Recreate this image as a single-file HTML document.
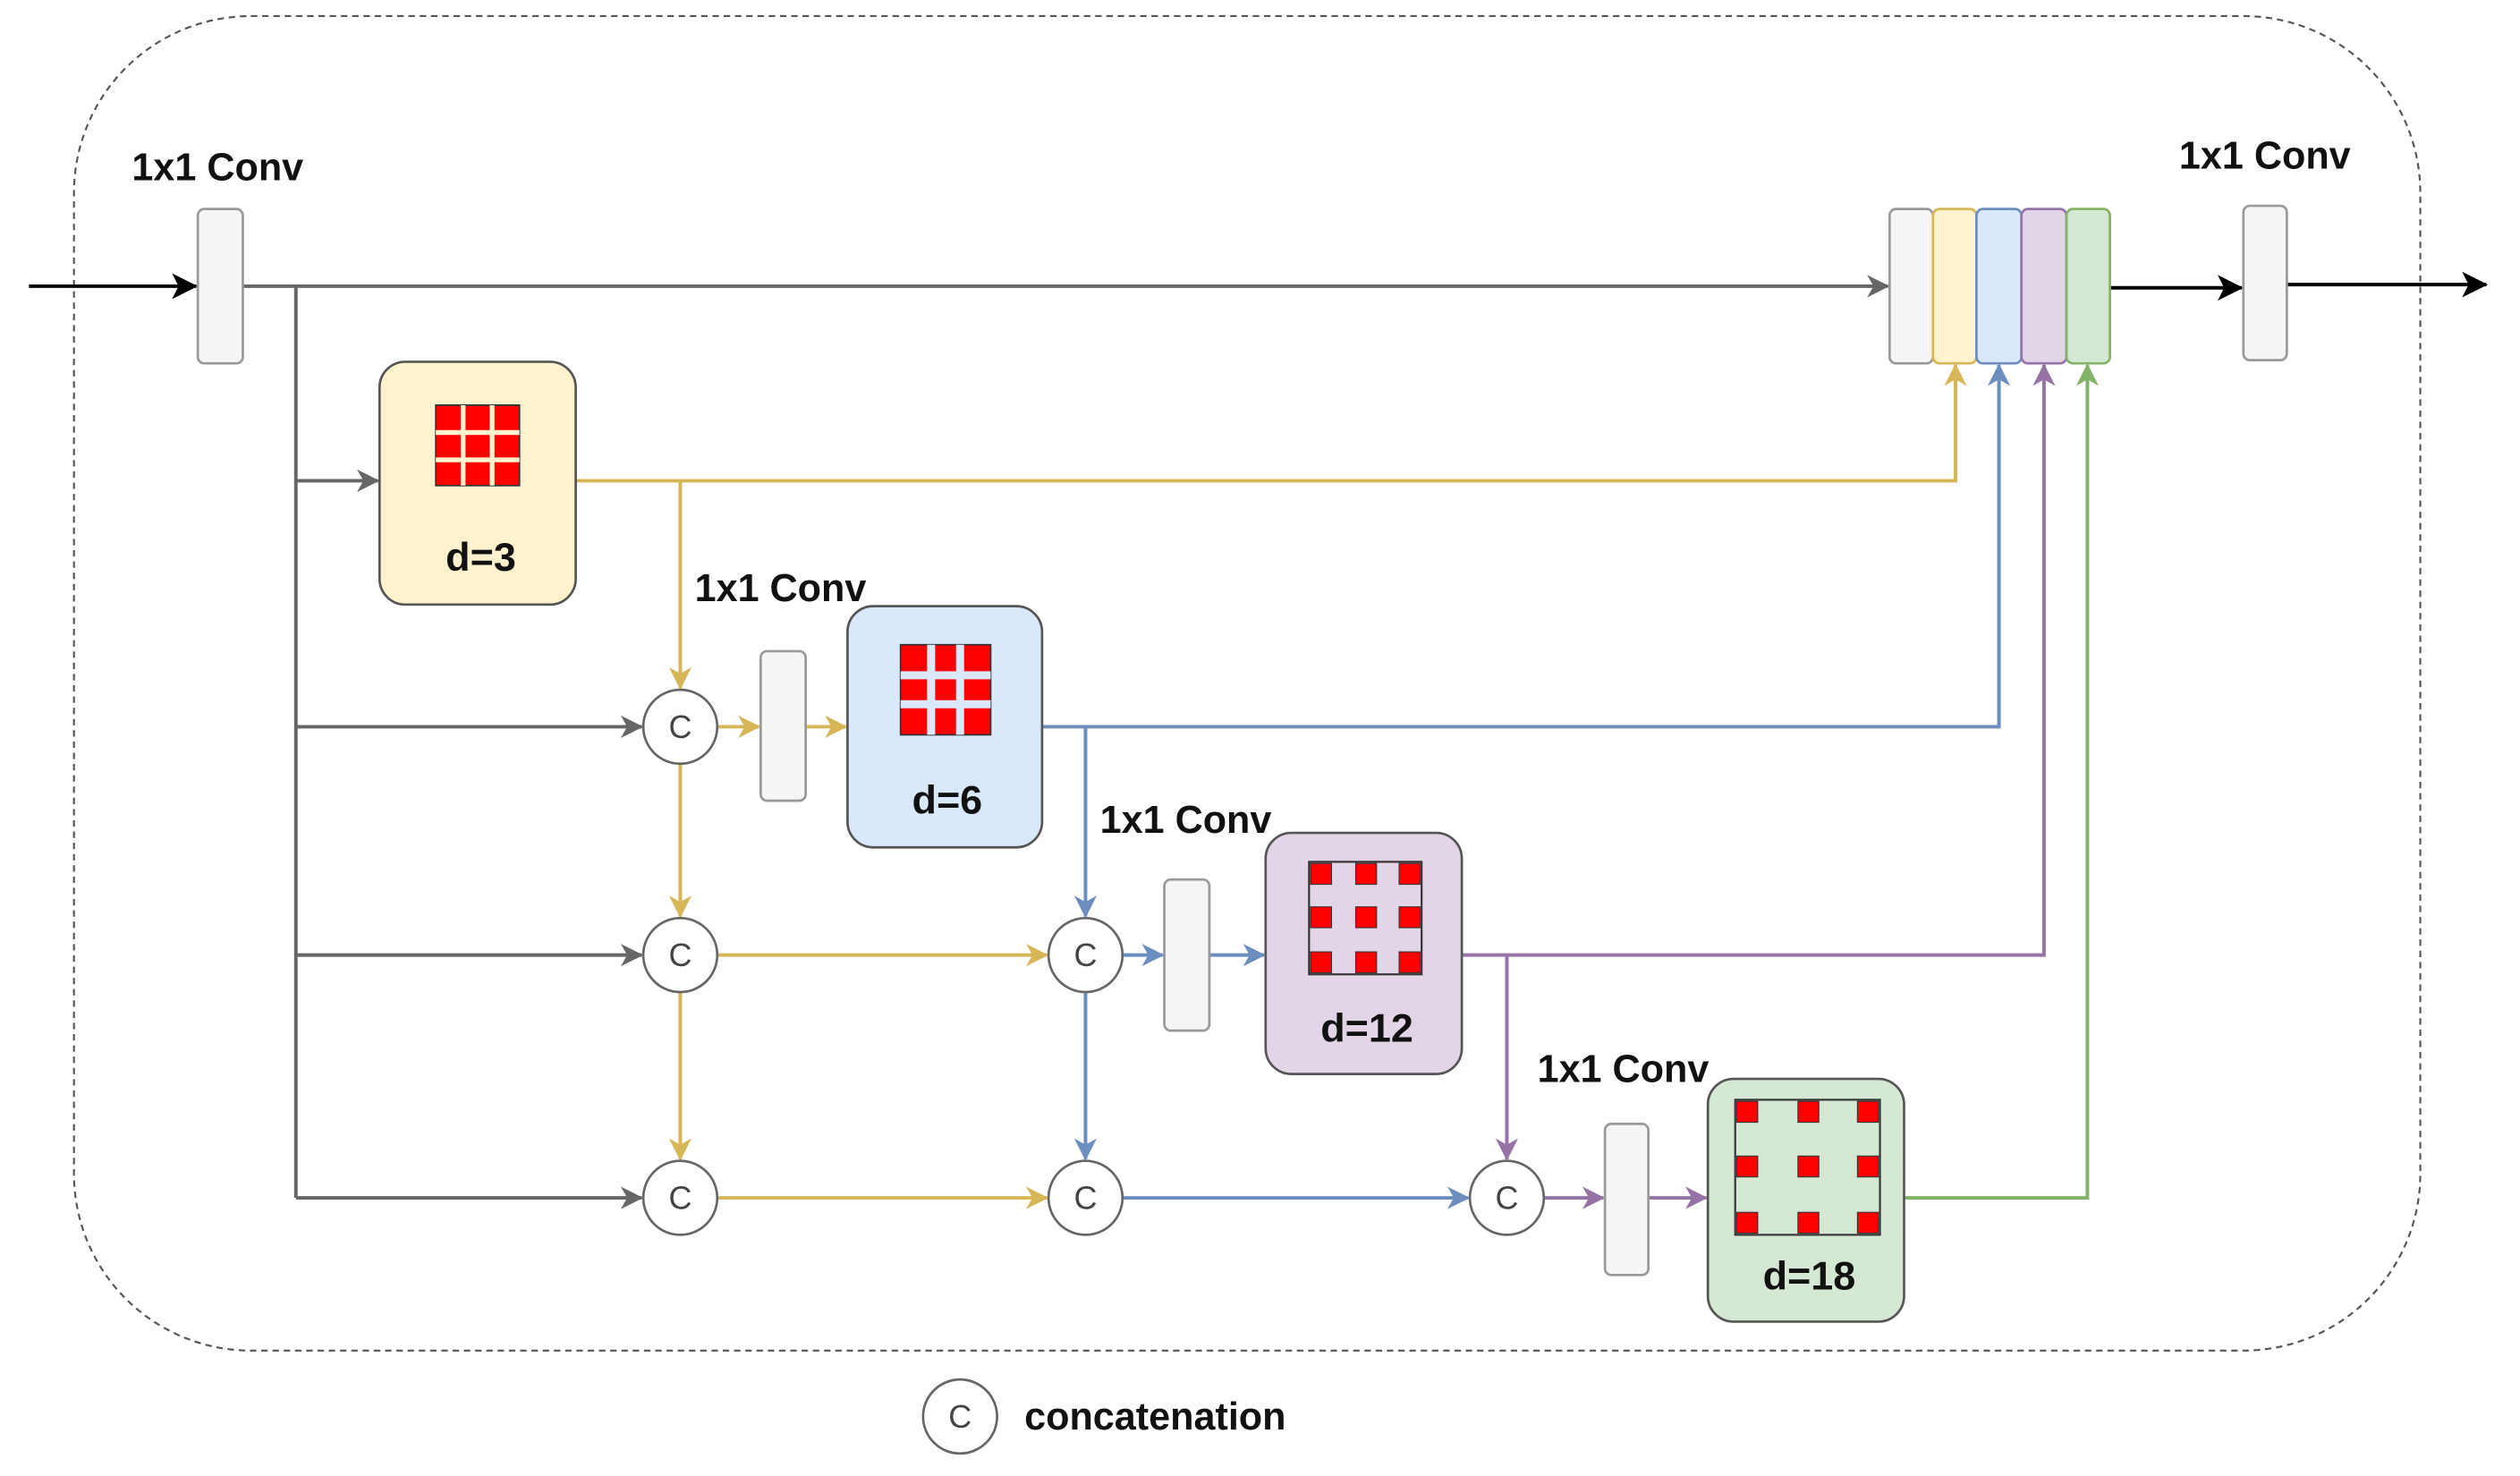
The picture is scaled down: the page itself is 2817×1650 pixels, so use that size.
<!DOCTYPE html>
<html><head><meta charset="utf-8"><style>
html,body{margin:0;padding:0;background:#fff;}
svg{display:block;}
text{font-family:"Liberation Sans",Arial,sans-serif;}
</style></head><body>
<svg width="2817" height="1650" viewBox="0 0 1567 918" preserveAspectRatio="none" xmlns="http://www.w3.org/2000/svg">
<defs>
<marker id="aG" markerWidth="14" markerHeight="14" refX="13" refY="7" orient="auto" markerUnits="userSpaceOnUse" viewBox="0 0 14 14"><path d="M0,0 L14,7 L0,14 L4,7 Z" fill="#666"/></marker>
<marker id="aY" markerWidth="14" markerHeight="14" refX="13" refY="7" orient="auto" markerUnits="userSpaceOnUse" viewBox="0 0 14 14"><path d="M0,0 L14,7 L0,14 L4,7 Z" fill="#d6b656"/></marker>
<marker id="aB" markerWidth="14" markerHeight="14" refX="13" refY="7" orient="auto" markerUnits="userSpaceOnUse" viewBox="0 0 14 14"><path d="M0,0 L14,7 L0,14 L4,7 Z" fill="#6c8ebf"/></marker>
<marker id="aP" markerWidth="14" markerHeight="14" refX="13" refY="7" orient="auto" markerUnits="userSpaceOnUse" viewBox="0 0 14 14"><path d="M0,0 L14,7 L0,14 L4,7 Z" fill="#9673a6"/></marker>
<marker id="aN" markerWidth="14" markerHeight="14" refX="13" refY="7" orient="auto" markerUnits="userSpaceOnUse" viewBox="0 0 14 14"><path d="M0,0 L14,7 L0,14 L4,7 Z" fill="#82b366"/></marker>
<marker id="aKb" markerWidth="16" markerHeight="16" refX="15" refY="8" orient="auto" markerUnits="userSpaceOnUse" viewBox="0 0 16 16"><path d="M0,0 L16,8 L0,16 L4,8 Z" fill="#000"/></marker>
</defs>

<rect x="46" y="10" width="1459" height="830" rx="110" ry="110" fill="none" stroke="#555" stroke-width="1.2" stroke-dasharray="4,3"/>

<g stroke="#666" stroke-width="2.2" fill="none">
<line x1="151" y1="178" x2="1174" y2="178" marker-end="url(#aG)"/>
<line x1="184" y1="178" x2="184" y2="745"/>
<line x1="184" y1="299" x2="235" y2="299" marker-end="url(#aG)"/>
<line x1="184" y1="452" x2="399" y2="452" marker-end="url(#aG)"/>
<line x1="184" y1="594" x2="399" y2="594" marker-end="url(#aG)"/>
<line x1="184" y1="745" x2="399" y2="745" marker-end="url(#aG)"/>
</g>
<g stroke="#000" stroke-width="2.2" fill="none">
<line x1="18" y1="178" x2="122" y2="178" marker-end="url(#aKb)"/>
<line x1="1312" y1="179" x2="1394" y2="179" marker-end="url(#aKb)"/>
<line x1="1422" y1="177" x2="1546" y2="177" marker-end="url(#aKb)"/>
</g>

<g stroke="#d6b656" stroke-width="2.2" fill="none">
<polyline points="358,299 1216,299 1216,227" marker-end="url(#aY)"/>
<line x1="423" y1="299" x2="423" y2="428" marker-end="url(#aY)"/>
<line x1="423" y1="475" x2="423" y2="570" marker-end="url(#aY)"/>
<line x1="423" y1="617" x2="423" y2="721" marker-end="url(#aY)"/>
<line x1="446" y1="452" x2="472" y2="452" marker-end="url(#aY)"/>
<line x1="501" y1="452" x2="526" y2="452" marker-end="url(#aY)"/>
<line x1="446" y1="594" x2="651" y2="594" marker-end="url(#aY)"/>
<line x1="446" y1="745" x2="651" y2="745" marker-end="url(#aY)"/>
</g>
<g stroke="#6c8ebf" stroke-width="2.2" fill="none">
<polyline points="648,452 1243,452 1243,227" marker-end="url(#aB)"/>
<line x1="675" y1="452" x2="675" y2="570" marker-end="url(#aB)"/>
<line x1="675" y1="617" x2="675" y2="721" marker-end="url(#aB)"/>
<line x1="698" y1="594" x2="723" y2="594" marker-end="url(#aB)"/>
<line x1="752" y1="594" x2="786" y2="594" marker-end="url(#aB)"/>
<line x1="698" y1="745" x2="913" y2="745" marker-end="url(#aB)"/>
</g>
<g stroke="#9673a6" stroke-width="2.2" fill="none">
<polyline points="909,594 1271,594 1271,227" marker-end="url(#aP)"/>
<line x1="937" y1="594" x2="937" y2="721" marker-end="url(#aP)"/>
<line x1="960" y1="745" x2="997" y2="745" marker-end="url(#aP)"/>
<line x1="1025" y1="745" x2="1061" y2="745" marker-end="url(#aP)"/>
</g>
<polyline points="1184,745 1298,745 1298,227" stroke="#82b366" stroke-width="2.2" fill="none" marker-end="url(#aN)"/>

<g fill="#f5f5f5" stroke="#999" stroke-width="1.5">
<rect x="123" y="130" width="28" height="96" rx="4"/>
<rect x="1395" y="128" width="27" height="96" rx="4"/>
<rect x="473" y="405" width="28" height="93" rx="4"/>
<rect x="724" y="547" width="28" height="94" rx="4"/>
<rect x="998" y="699" width="27" height="94" rx="4"/>
<rect x="1175" y="130" width="27" height="96" rx="4"/>
</g>
<rect x="1202" y="130" width="27" height="96" rx="4" fill="#fff2cc" stroke="#d6b656" stroke-width="1.5"/>
<rect x="1229" y="130" width="28" height="96" rx="4" fill="#dae8fc" stroke="#6c8ebf" stroke-width="1.5"/>
<rect x="1257" y="130" width="28" height="96" rx="4" fill="#e1d5e7" stroke="#9673a6" stroke-width="1.5"/>
<rect x="1285" y="130" width="27" height="96" rx="4" fill="#d5e8d4" stroke="#82b366" stroke-width="1.5"/>

<rect x="236" y="225" width="122" height="151" rx="16" fill="#fff2cc" stroke="#555" stroke-width="1.5"/>
<rect x="527" y="377" width="121" height="150" rx="16" fill="#dae8fc" stroke="#555" stroke-width="1.5"/>
<rect x="787" y="518" width="122" height="150" rx="16" fill="#e1d5e7" stroke="#555" stroke-width="1.5"/>
<rect x="1062" y="671" width="122" height="151" rx="16" fill="#d5e8d4" stroke="#555" stroke-width="1.5"/>

<rect x="271" y="252" width="52" height="50" fill="#ff0000" stroke="#333" stroke-width="1"/>
<g stroke="#fff2cc" stroke-width="3"><line x1="288" y1="252" x2="288" y2="302"/><line x1="306" y1="252" x2="306" y2="302"/><line x1="271" y1="269" x2="323" y2="269"/><line x1="271" y1="286" x2="323" y2="286"/></g>
<rect x="560" y="401" width="56" height="56" fill="#ff0000" stroke="#333" stroke-width="1"/>
<g stroke="#dae8fc" stroke-width="5"><line x1="579" y1="401" x2="579" y2="457"/><line x1="597" y1="401" x2="597" y2="457"/><line x1="560" y1="420" x2="616" y2="420"/><line x1="560" y1="438" x2="616" y2="438"/></g>
<rect x="814" y="536" width="70" height="70" fill="none" stroke="#333" stroke-width="1.2"/>
<g fill="#ff0000" stroke="#333" stroke-width="0.6">
<rect x="815" y="537" width="13" height="13"/><rect x="843" y="537" width="13" height="13"/><rect x="870" y="537" width="13" height="13"/>
<rect x="815" y="564" width="13" height="13"/><rect x="843" y="564" width="13" height="13"/><rect x="870" y="564" width="13" height="13"/>
<rect x="815" y="592" width="13" height="13"/><rect x="843" y="592" width="13" height="13"/><rect x="870" y="592" width="13" height="13"/>
</g>
<rect x="1079" y="684" width="90" height="84" fill="none" stroke="#333" stroke-width="1.2"/>
<g fill="#ff0000" stroke="#333" stroke-width="0.6">
<rect x="1080" y="685" width="13" height="13"/><rect x="1118" y="685" width="13" height="13"/><rect x="1155" y="685" width="13" height="13"/>
<rect x="1080" y="719" width="13" height="13"/><rect x="1118" y="719" width="13" height="13"/><rect x="1155" y="719" width="13" height="13"/>
<rect x="1080" y="754" width="13" height="13"/><rect x="1118" y="754" width="13" height="13"/><rect x="1155" y="754" width="13" height="13"/>
</g>

<g fill="#fff" stroke="#666" stroke-width="1.5">
<circle cx="423" cy="452" r="23"/><circle cx="423" cy="594" r="23"/><circle cx="423" cy="745" r="23"/>
<circle cx="675" cy="594" r="23"/><circle cx="675" cy="745" r="23"/><circle cx="937" cy="745" r="23"/>
<circle cx="597" cy="881" r="23"/>
</g>
<g font-size="20" fill="#444" text-anchor="middle">
<text x="423" y="459">C</text><text x="423" y="601">C</text><text x="423" y="752">C</text>
<text x="675" y="601">C</text><text x="675" y="752">C</text><text x="937" y="752">C</text>
<text x="597" y="888">C</text>
</g>

<g font-size="24" font-weight="bold" fill="#111">
<text x="82" y="112">1x1 Conv</text>
<text x="1355" y="105">1x1 Conv</text>
<text x="432" y="374">1x1 Conv</text>
<text x="684" y="518">1x1 Conv</text>
<text x="956" y="673">1x1 Conv</text>
<text x="637" y="889">concatenation</text>
</g>
<g font-size="25" font-weight="bold" fill="#111" text-anchor="middle">
<text x="299" y="355">d=3</text>
<text x="589" y="506">d=6</text>
<text x="850" y="648">d=12</text>
<text x="1125" y="802">d=18</text>
</g>
</svg>
</body></html>
